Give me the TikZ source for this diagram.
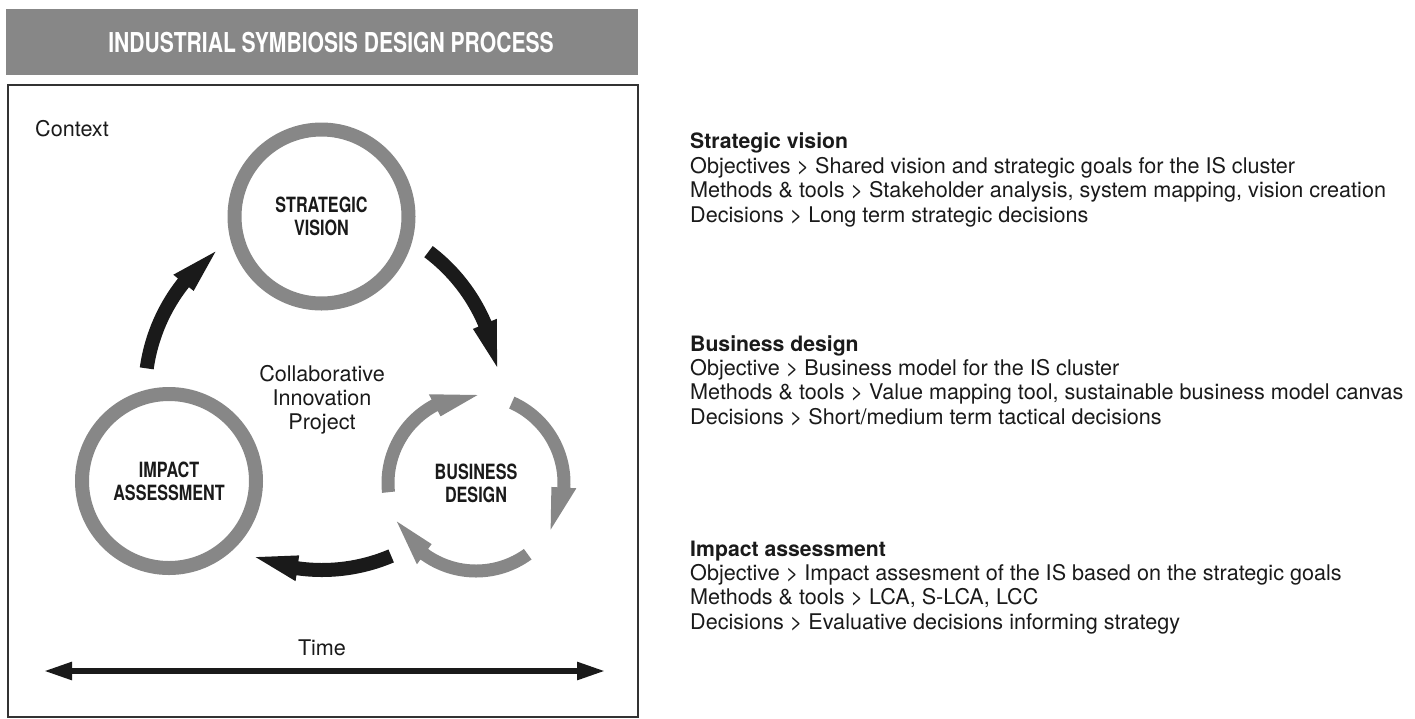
\documentclass[tikz,border=0pt]{standalone}
\usepackage{fontspec}
\setmainfont{TeX Gyre Heros}
\newfontfamily\condfont[FakeStretch=0.77]{TeX Gyre Heros}
\usetikzlibrary{calc,arrows.meta}
\definecolor{ringgray}{HTML}{878787}
\definecolor{ink}{HTML}{1A1A1A}
% #1 centre, #2 radius, #3 half shaft width, #4 half head width,
% #5 tail angle, #6 head base angle, #7 tip angle, #8 colour
\newcommand\bentarrow[8]{%
  \fill[#8] ($(#1)+(#5:{#2+#3})$) arc[start angle=#5, end angle=#6, radius={#2+#3}]
    -- ($(#1)+(#6:{#2+#4})$) -- ($(#1)+(#7:#2)$) -- ($(#1)+(#6:{#2-#4})$)
    -- ($(#1)+(#6:{#2-#3})$) arc[start angle=#6, end angle=#5, radius={#2-#3}] -- cycle;}
\tikzset{
  ring/.style={circle, draw=ringgray, line width=14pt, minimum size=174pt, inner sep=0pt,
    align=center, text=ink, font={\condfont\bfseries\fontsize{21}{23}\selectfont}},
  plain/.style={inner sep=0pt, text=ink, font={\fontsize{21.6}{24}\selectfont}},
  infohead/.style={inner sep=0pt, anchor=base west, text=ink, font={\bfseries\fontsize{21.2}{24}\selectfont}},
  infoline/.style={inner sep=0pt, anchor=base west, text=ink, font={\fontsize{21.6}{24}\selectfont}},
}
\begin{document}
\begin{tikzpicture}[x=1pt,y=1pt]
\useasboundingbox (0,0) rectangle (1415,-718);
% header
\fill[ringgray] (6,-9) rectangle (638,-75);
\node[inner sep=0pt, text=white, font={\condfont\bfseries\fontsize{27.4}{29}\selectfont}] (title) at (331,-43) {INDUSTRIAL SYMBIOSIS DESIGN PROCESS};
% frame
\draw[line width=1.5pt, draw=black!80] (8,-85) rectangle (638,-717);
\node[plain, anchor=west] (context) at (35,-129) {Context};
% circles
\node[ring] (sv) at (321.5,-216.5) {STRATEGIC\\VISION};
\node[ring] (ia) at (169,-481) {IMPACT\\ASSESSMENT};
\node[inner sep=0pt, align=center, text=ink, font={\condfont\bfseries\fontsize{21}{23}\selectfont}] (bd) at (476,-483) {BUSINESS\\DESIGN};
\node[plain, align=center] (cip) at (322,-400) {Collaborative\\Innovation\\Project};
% ring of arrows around business design
\bentarrow{bd}{88}{6.5}{12.5}{186}{118}{89}{ringgray}
\bentarrow{bd}{88}{6.5}{12.5}{66}{-3}{-32}{ringgray}
\bentarrow{bd}{88}{6.5}{12.5}{-54}{-126}{-154}{ringgray}
% black cycle arrows
\coordinate (cyc) at (322,-393);
\bentarrow{cyc}{177}{7}{13}{172}{141.5}{127}{ink}
\bentarrow{cyc}{177}{7}{13}{53}{23}{8.5}{ink}
\bentarrow{cyc}{177}{7}{13}{-67}{-98}{-112}{ink}
% time
\node[plain] (time) at (322,-648) {Time};
\coordinate (tl) at (44,-671);
\coordinate (tr) at (605,-671);
\draw[ink, line width=5.5pt, {Triangle[length=28pt,width=17pt]}-{Triangle[length=28pt,width=17pt]}] (tl) -- (tr);
% right column
\node[infohead] (h1) at (690,-148) {Strategic vision};
\node[infoline] (h1a) at (690,-173) {Objectives > Shared vision and strategic goals for the IS cluster};
\node[infoline] (h1b) at (690,-197.5) {Methods \& tools > Stakeholder analysis, system mapping, vision creation};
\node[infoline] (h1c) at (690,-222) {Decisions > Long term strategic decisions};
\node[infohead] (h2) at (690,-351) {Business design};
\node[infoline] (h2a) at (690,-375) {Objective > Business model for the IS cluster};
\node[infoline] (h2b) at (690,-399.5) {Methods \& tools > Value mapping tool, sustainable business model canvas};
\node[infoline] (h2c) at (690,-424) {Decisions > Short/medium term tactical decisions};
\node[infohead] (h3) at (690,-556) {Impact assessment};
\node[infoline] (h3a) at (690,-580) {Objective > Impact assesment of the IS based on the strategic goals};
\node[infoline] (h3b) at (690,-604.5) {Methods \& tools > LCA, S-LCA, LCC};
\node[infoline] (h3c) at (690,-629) {Decisions > Evaluative decisions informing strategy};
\end{tikzpicture}
\end{document}
